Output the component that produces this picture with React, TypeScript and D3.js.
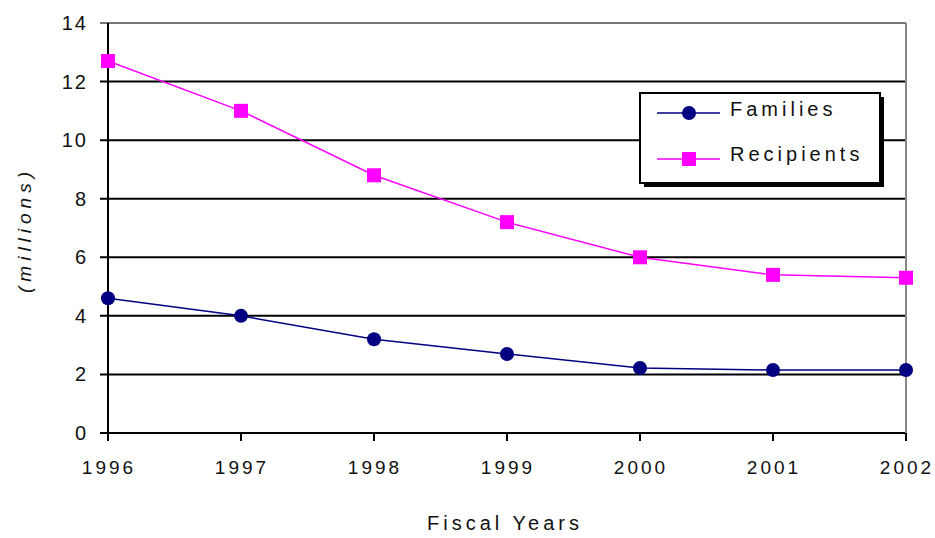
import React from "react";
import * as d3 from "d3";

const years = [1996, 1997, 1998, 1999, 2000, 2001, 2002];
const families = [4.6, 4.0, 3.2, 2.7, 2.22, 2.15, 2.15];
const recipients = [12.7, 11.0, 8.8, 7.2, 6.0, 5.4, 5.3];
const yTicks = [0, 2, 4, 6, 8, 10, 12, 14];

const W = 935;
const H = 538;
const left = 108;
const right = 906;
const top = 23;
const bottom = 433;

export default function App() {
  const x = d3.scaleLinear().domain([1996, 2002]).range([left, right]);
  const y = d3.scaleLinear().domain([0, 14]).range([bottom, top]);
  const line = d3
    .line<number>()
    .x((_, i) => x(years[i]))
    .y((d) => y(d));
  const font = "Arial, 'Liberation Sans', sans-serif";
  const lx = 640, ly = 93, lw = 240, lh = 90;
  return (
    <svg
      width={W}
      height={H}
      style={{ position: "absolute", left: 0, top: 0, background: "#fff" }}
      fontFamily={font}
    >
      {yTicks.map((t) => (
        <g key={t}>
          <line
            x1={left - 8}
            x2={right}
            y1={y(t)}
            y2={y(t)}
            stroke={t === 14 ? "#777" : "#000"}
            strokeWidth={2}
          />
          <text
            x={left - 20}
            y={y(t)}
            dy="0.35em"
            textAnchor="end"
            fontSize={20}
            letterSpacing={2}
            fill="#111"
          >
            {t}
          </text>
        </g>
      ))}
      <line x1={right} x2={right} y1={top} y2={bottom} stroke="#888" strokeWidth={2} />
      <line x1={left} x2={left} y1={top} y2={bottom + 8} stroke="#000" strokeWidth={2} />
      {years.map((yr) => (
        <g key={yr}>
          <line x1={x(yr)} x2={x(yr)} y1={bottom} y2={bottom + 8} stroke="#000" strokeWidth={2} />
          <text
            x={x(yr) + 1}
            y={467}
            dy="0.35em"
            textAnchor="middle"
            fontSize={19}
            letterSpacing={3}
            fill="#111"
          >
            {yr}
          </text>
        </g>
      ))}
      <text x={505} y={523} textAnchor="middle" fontSize={20} letterSpacing={4} fill="#111" dy="0.35em">
        Fiscal Years
      </text>
      <text
        transform={`translate(24,${230}) rotate(-90)`}
        textAnchor="middle"
        fontSize={19}
        fontStyle="italic"
        letterSpacing={5}
        fill="#111"
        dy="0.35em"
      >
        (millions)
      </text>
      <path d={line(recipients) || ""} fill="none" stroke="#ff00ff" strokeWidth={1.5} />
      <path d={line(families) || ""} fill="none" stroke="#000080" strokeWidth={1.5} />
      {recipients.map((v, i) => (
        <rect key={"r" + i} x={x(years[i]) - 7} y={y(v) - 7} width={14} height={14} fill="#ff00ff" />
      ))}
      {families.map((v, i) => (
        <circle key={"f" + i} cx={x(years[i])} cy={y(v)} r={7} fill="#000080" />
      ))}
      <rect x={lx + 4} y={ly + 4} width={lw} height={lh} fill="#000" />
      <rect x={lx} y={ly} width={lw} height={lh} fill="#fff" stroke="#000" strokeWidth={2} />
      <line x1={lx + 17} x2={lx + 80} y1={ly + 20} y2={ly + 20} stroke="#000080" strokeWidth={1.5} />
      <circle cx={lx + 49} cy={ly + 20} r={7} fill="#000080" />
      <text x={lx + 90} y={ly + 16} dy="0.35em" fontSize={20} letterSpacing={4} fill="#111">
        Families
      </text>
      <line x1={lx + 17} x2={lx + 80} y1={ly + 66} y2={ly + 66} stroke="#ff00ff" strokeWidth={1.5} />
      <rect x={lx + 42} y={ly + 59} width={14} height={14} fill="#ff00ff" />
      <text x={lx + 90} y={ly + 61} dy="0.35em" fontSize={20} letterSpacing={4} fill="#111">
        Recipients
      </text>
    </svg>
  );
}
